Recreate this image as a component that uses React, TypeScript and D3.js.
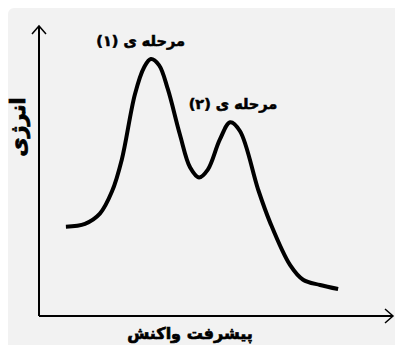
import * as d3 from "d3";
import React from "react";

// reaction progress (arbitrary units) and energy (arbitrary units)
const progress = [7.6, 13.0, 17.2, 20.6, 23.4, 27.1, 29.7, 31.6, 33.9, 36.4, 39.8, 42.7, 45.2, 47.7, 51.1, 54.0, 56.8, 61.9, 65.3, 70.9, 74.6, 79.4, 84.5];
const energy = [30.8, 31.8, 35.3, 42.9, 54.0, 76.5, 85.8, 88.6, 86.5, 78.2, 62.6, 51.2, 47.8, 50.5, 60.9, 66.8, 63.7, 43.6, 32.2, 17.6, 12.5, 10.7, 9.3];

const stepLabels = ["مرحله ی (۱)", "مرحله ی (۲)"];
const stepX = [28.7, 54.8];
const stepY = [93.2, 71.5];

const xTitle = "پیشرفت واکنش";
const yTitle = "انرژی";

const W = 395;
const H = 345;
const margin = { top: 26, right: 2, bottom: 29, left: 39 };
const FONT = "'DejaVu Sans', sans-serif";

export default function App() {
  const x = d3.scaleLinear().domain([0, 100]).range([margin.left, W - margin.right]);
  const y = d3.scaleLinear().domain([0, 100]).range([H - margin.bottom, margin.top]);

  const pts: [number, number][] = progress.map((p, i) => [p, energy[i]]);
  const line = d3
    .line<[number, number]>()
    .x((d) => x(d[0]))
    .y((d) => y(d[1]))
    .curve(d3.curveCatmullRom.alpha(0.5));

  const x0 = x(0);
  const y0 = y(0);
  const xEnd = x(100);
  const yEnd = y(100);

  const bold = { fontFamily: FONT, fontWeight: "bold", fill: "#000", stroke: "#000" } as const;

  return (
    <svg
      width={W}
      height={H}
      style={{ position: "absolute", left: 0, top: 0, display: "block" }}
    >
      <rect x={8} y={8} width={W + 20} height={H + 20} rx={6} fill="#f2f2f2" />

      {/* axes */}
      <line x1={x0} y1={y0} x2={x0} y2={yEnd} stroke="#000" strokeWidth={2} />
      <line x1={x0} y1={y0} x2={xEnd} y2={y0} stroke="#000" strokeWidth={2} />
      <path
        d={`M${x0 - 7},${yEnd + 8}L${x0},${yEnd}L${x0 + 7},${yEnd + 8}`}
        fill="none"
        stroke="#000"
        strokeWidth={1.5}
      />
      <path
        d={`M${xEnd - 8},${y0 - 7}L${xEnd},${y0}L${xEnd - 8},${y0 + 7}`}
        fill="none"
        stroke="#000"
        strokeWidth={1.5}
      />

      {/* energy curve */}
      <path
        d={line(pts) ?? ""}
        fill="none"
        stroke="#000"
        strokeWidth={4}
        strokeLinejoin="round"
      />

      {stepLabels.map((s, i) => (
        <text
          key={s}
          x={x(stepX[i])}
          y={y(stepY[i])}
          textAnchor="middle"
          direction="rtl"
          fontSize={14.5}
          strokeWidth={0.6}
          {...bold}
        >
          {s}
        </text>
      ))}

      <text
        x={190}
        y={339}
        textAnchor="middle"
        direction="rtl"
        fontSize={16}
        strokeWidth={0.7}
        {...bold}
      >
        {xTitle}
      </text>
      <text
        transform="translate(25,127) rotate(-90)"
        textAnchor="middle"
        direction="rtl"
        fontSize={21}
        strokeWidth={0.8}
        {...bold}
      >
        {yTitle}
      </text>
    </svg>
  );
}
